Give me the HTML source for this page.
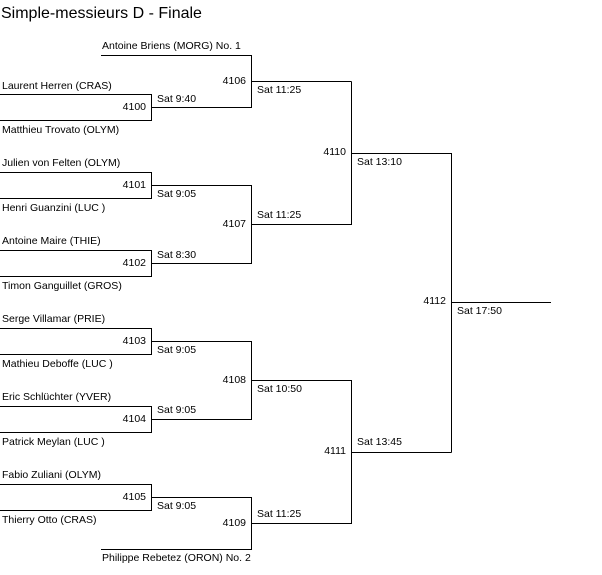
<!DOCTYPE html>
<html><head><meta charset="utf-8"><style>
html,body{margin:0;padding:0;background:#fff}
svg text{font-family:"Liberation Sans",sans-serif;font-size:10.5px;fill:#000}
</style></head><body>
<svg width="602" height="570" xmlns="http://www.w3.org/2000/svg">
<text x="1" y="18" style="font-size:16px">Simple-messieurs D - Finale</text>
<g stroke="#000" stroke-width="1" fill="none" shape-rendering="crispEdges">
<path d="M101 55.5H251.5V81.5M0 94.5H151.5V120.5H0M151.5 107.5H251.5V81.5H351.5"/>
<path d="M0 172.5H151.5V198.5H0M0 250.5H151.5V276.5H0M151.5 185.5H251.5V263.5H151.5M251.5 224.5H351.5V81.5M351.5 153.5H451.5V452.5M451.5 302.5H551"/>
<path d="M0 328.5H151.5V354.5H0M0 406.5H151.5V432.5H0M151.5 341.5H251.5V419.5H151.5M251.5 380.5H351.5V452.5H451.5"/>
<path d="M0 484.5H151.5V510.5H0M151.5 497.5H251.5V549.5H101M251.5 523.5H351.5V452.5"/>
</g>
<g dominant-baseline="central">
<text x="102" y="46">Antoine Briens (MORG) No. 1</text>
<text x="2" y="86">Laurent Herren (CRAS)</text>
<text x="2" y="130">Matthieu Trovato (OLYM)</text>
<text x="2" y="163">Julien von Felten (OLYM)</text>
<text x="2" y="208">Henri Guanzini (LUC )</text>
<text x="2" y="241">Antoine Maire (THIE)</text>
<text x="2" y="286">Timon Ganguillet (GROS)</text>
<text x="2" y="319">Serge Villamar (PRIE)</text>
<text x="2" y="364">Mathieu Deboffe (LUC )</text>
<text x="2" y="397">Eric Schlüchter (YVER)</text>
<text x="2" y="442">Patrick Meylan (LUC )</text>
<text x="2" y="475">Fabio Zuliani (OLYM)</text>
<text x="2" y="520">Thierry Otto (CRAS)</text>
<text x="102" y="558">Philippe Rebetez (ORON) No. 2</text>
</g>
<g dominant-baseline="central" text-anchor="end">
<text x="146" y="107">4100</text>
<text x="146" y="185">4101</text>
<text x="146" y="263">4102</text>
<text x="146" y="341">4103</text>
<text x="146" y="419">4104</text>
<text x="146" y="497">4105</text>
<text x="246" y="81">4106</text>
<text x="246" y="224">4107</text>
<text x="246" y="380">4108</text>
<text x="246" y="523">4109</text>
<text x="346" y="152">4110</text>
<text x="346" y="451">4111</text>
<text x="446" y="301">4112</text>
</g>
<g dominant-baseline="central">
<text x="157" y="99">Sat 9:40</text>
<text x="157" y="194">Sat 9:05</text>
<text x="157" y="255">Sat 8:30</text>
<text x="157" y="350">Sat 9:05</text>
<text x="157" y="410">Sat 9:05</text>
<text x="157" y="506">Sat 9:05</text>
<text x="257" y="90">Sat 11:25</text>
<text x="257" y="215">Sat 11:25</text>
<text x="257" y="389">Sat 10:50</text>
<text x="257" y="514">Sat 11:25</text>
<text x="357" y="162">Sat 13:10</text>
<text x="357" y="442">Sat 13:45</text>
<text x="457" y="311">Sat 17:50</text>
</g>
</svg>
</body></html>
